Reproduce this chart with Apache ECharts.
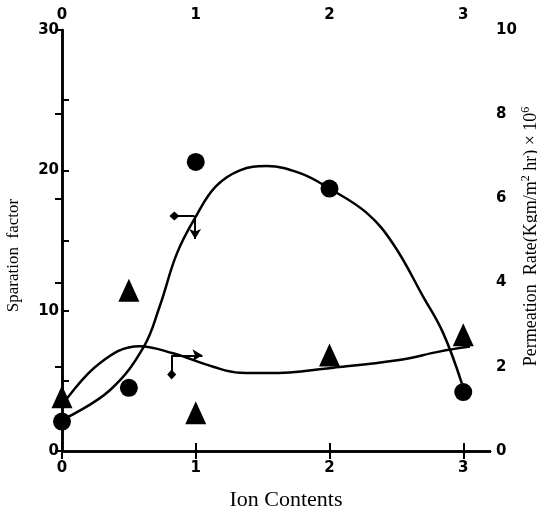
<!DOCTYPE html>
<html>
<head>
<meta charset="utf-8">
<script src="https://cdn.jsdelivr.net/npm/echarts@6/dist/echarts.min.js"></script>
<style>html,body{margin:0;padding:0;background:#fff;}#c{width:537px;height:511px;}</style>
</head>
<body>
<div id="c"></div>
<script>
// ---- data ----
var xTickValues = [0, 1, 2, 3];
var leftTickLabels = [0, 10, 20, 30];
var rightTickLabels = [0, 2, 4, 6, 8, 10];

// separation factor (left axis): circles
var circleX = [0, 0.5, 1, 2, 3];
var circleY = [2.1, 4.5, 20.6, 18.7, 4.2];

// permeation rate (right axis): triangles
var triX = [0, 0.5, 1, 2, 3];
var triY = [1.29, 3.82, 0.91, 2.28, 2.76];

// hand-drawn fitted curves
var sepCurveX = [0.02, 0.36, 0.61, 0.73, 0.86, 1.0, 1.15, 1.33, 1.53, 1.78, 2.0, 2.28, 2.48, 2.7, 2.85, 2.99];
var sepCurveY = [2.3, 4.35, 7.4, 10.3, 14.1, 16.7, 18.85, 20.0, 20.3, 19.8, 18.7, 16.95, 14.7, 11.0, 8.4, 4.8];

var permCurveX = [0.01, 0.28, 0.58, 0.83, 1.13, 1.33, 1.55, 2.03, 2.52, 2.82, 3.05];
var permCurveY = [1.13, 2.08, 2.49, 2.32, 2.0, 1.86, 1.85, 1.98, 2.16, 2.36, 2.48];

// axis-pointing arrows (in ion content / separation factor units): [x0, y0, x1, y1]
var arrowSepLeft = [0.99, 16.75, 0.84, 16.75];
var arrowSepDown = [0.995, 16.75, 0.995, 15.1];
var arrowPermRight = [0.82, 6.82, 1.05, 6.82];
var arrowPermDown = [0.82, 6.82, 0.82, 5.45];

function zip(a, b) { return a.map(function (v, i) { return [v, b[i]]; }); }
function arrow(a, sym) {
  return [{ coord: [a[0], a[1]], symbol: 'none' }, { coord: [a[2], a[3]], symbol: sym }];
}

var BLACK = '#000';
var tickFont = { color: BLACK, fontFamily: 'DejaVu Sans', fontWeight: 'bold', fontSize: 15 };

var chart = echarts.init(document.getElementById('c'), null, { renderer: 'canvas' });
chart.setOption({
  backgroundColor: '#fff',
  animation: false,
  grid: { left: 62, right: 47, top: 30, bottom: 60, containLabel: false, outerBoundsMode: 'none' },
  xAxis: [
    {
      type: 'value', position: 'bottom', min: 0, max: 3.2, interval: 1,
      name: 'Ion Contents', nameLocation: 'middle', nameGap: 38,
      nameTextStyle: { color: BLACK, fontFamily: 'Liberation Serif', fontSize: 22, padding: [0, 0, 0, 20] },
      axisLine: { show: true, lineStyle: { color: BLACK, width: 2.5 } },
      axisTick: { show: true, inside: false, length: 8, lineStyle: { color: BLACK, width: 2 }, customValues: xTickValues },
      axisLabel: Object.assign({ margin: 10, customValues: xTickValues }, tickFont),
      splitLine: { show: false }
    },
    {
      type: 'value', position: 'top', min: 0, max: 3.2, interval: 1,
      axisLine: { show: true, lineStyle: { color: BLACK, width: 2.5 } },
      axisTick: { show: true, inside: false, length: 8, lineStyle: { color: BLACK, width: 2 }, customValues: xTickValues },
      axisLabel: Object.assign({ margin: 7, customValues: xTickValues }, tickFont),
      splitLine: { show: false }
    }
  ],
  yAxis: [
    {
      type: 'value', position: 'left', min: 0, max: 30, interval: 10,
      name: 'Sparation  factor', nameLocation: 'middle', nameRotate: 90, nameGap: 40,
      nameTextStyle: { color: BLACK, fontFamily: 'Liberation Serif', fontSize: 17, padding: [0, 30, 0, 0] },
      axisLine: { show: true, lineStyle: { color: BLACK, width: 2.5 } },
      axisTick: { show: true, inside: true, length: 7, lineStyle: { color: BLACK, width: 2 }, customValues: [5, 10, 15, 20, 25] },
      axisLabel: Object.assign({ margin: 3, customValues: leftTickLabels }, tickFont),
      splitLine: { show: false }
    },
    {
      type: 'value', position: 'right', min: 0, max: 10, interval: 2,
      name: 'Permeation  Rate(Kgm/m{sup|2} hr) × 10{sup|6}', nameLocation: 'middle', nameRotate: 90, nameGap: 30,
      nameMoveOverlap: false,
      nameTextStyle: {
        color: BLACK, fontFamily: 'Liberation Serif', fontSize: 18, padding: [0, 0, 0, 8],
        rich: { sup: { color: BLACK, fontFamily: 'Liberation Serif', fontSize: 12, padding: [0, 0, 10, 0] } }
      },
      axisLine: { show: true, lineStyle: { color: BLACK, width: 2.5 } },
      axisTick: { show: true, inside: true, length: 7, lineStyle: { color: BLACK, width: 2 } },
      axisLabel: Object.assign({ margin: 6, customValues: rightTickLabels }, tickFont),
      splitLine: { show: false }
    }
  ],
  series: [
    {
      name: 'sepCurve', type: 'line', xAxisIndex: 0, yAxisIndex: 0,
      data: zip(sepCurveX, sepCurveY), smooth: 0.4, showSymbol: false, silent: true,
      lineStyle: { color: BLACK, width: 2.5 },
      markLine: {
        silent: true, animation: false, symbolSize: [9, 10],
        label: { show: false },
        lineStyle: { color: BLACK, width: 2, type: 'solid' },
        emphasis: { disabled: true },
        data: [
          arrow(arrowSepLeft, 'diamond'),
          arrow(arrowSepDown, 'arrow'),
          arrow(arrowPermRight, 'arrow'),
          arrow(arrowPermDown, 'diamond')
        ]
      }
    },
    {
      name: 'permCurve', type: 'line', xAxisIndex: 0, yAxisIndex: 1,
      data: zip(permCurveX, permCurveY), smooth: 0.4, showSymbol: false, silent: true,
      lineStyle: { color: BLACK, width: 2.5 }
    },
    {
      name: 'circles', type: 'scatter', xAxisIndex: 0, yAxisIndex: 0,
      data: zip(circleX, circleY), symbol: 'circle', symbolSize: 18,
      itemStyle: { color: BLACK, opacity: 1 }
    },
    {
      name: 'triangles', type: 'scatter', xAxisIndex: 0, yAxisIndex: 1,
      data: zip(triX, triY), symbol: 'triangle', symbolSize: [21, 23],
      itemStyle: { color: BLACK, opacity: 1 }
    }
  ]
});
</script>
</body>
</html>
